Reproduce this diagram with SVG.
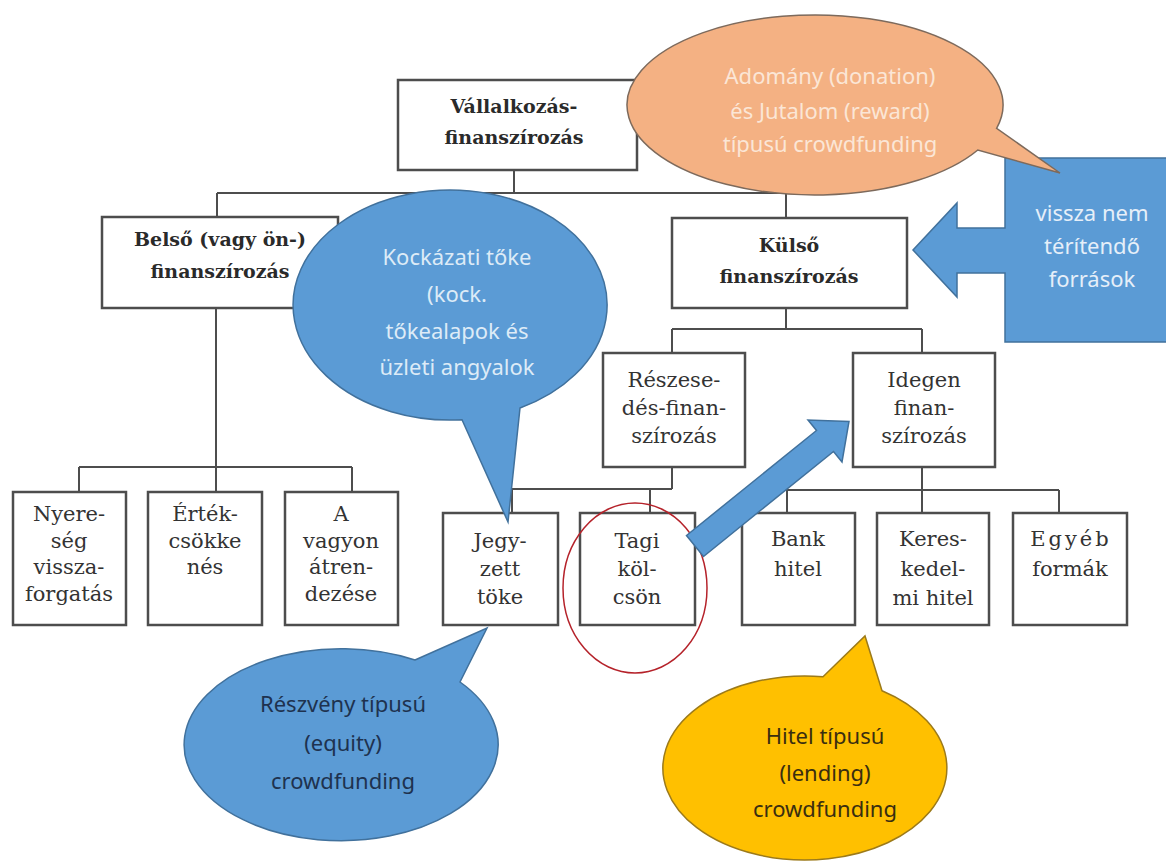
<svg xmlns="http://www.w3.org/2000/svg" width="1166" height="865" viewBox="0 0 1166 865">
<style>
.box{fill:#fff;stroke:#4d4d4d;stroke-width:2.5}
.con{fill:none;stroke:#4d4d4d;stroke-width:2}
.tb{font-family:"DejaVu Serif","Liberation Serif",serif;font-weight:bold;font-size:19px;fill:#2a2a2a;text-anchor:middle;dominant-baseline:central}
.tr{font-family:"DejaVu Serif","Liberation Serif",serif;font-size:21px;fill:#333;text-anchor:middle;dominant-baseline:central}
.bt{font-family:"Noto Sans","Liberation Sans",sans-serif;font-size:22px;text-anchor:middle;dominant-baseline:central}
.blue{fill:#5b9bd5;stroke:#41719c;stroke-width:1.5}
</style>
<rect width="1166" height="865" fill="#fff"/>
<g id="connectors">
<path class="con" d="M514,170V193M217,193H786M217,193V217M786,193V218"/>
<path class="con" d="M216,308V492M79,467H352M79,467V492M352,467V492"/>
<path class="con" d="M786,308V329M672,329H922M672,329V353M922,329V353"/>
<path class="con" d="M672,467V489M512,489H672M512,489V513M650,489V513"/>
<path class="con" d="M922,467V513M787,490H1059M787,490V513M1059,490V513"/>
</g>
<g id="vallalkozas"><rect class="box" x="398" y="80" width="239" height="90"/><text class="tb" x="514" y="106">Vállalkozás-</text><text class="tb" x="514" y="137">finanszírozás</text></g>
<g id="belso"><rect class="box" x="102" y="217" width="236" height="91"/><text class="tb" x="220" y="239">Belső (vagy ön-)</text><text class="tb" x="220" y="271">finanszírozás</text></g>
<g id="kulso"><rect class="box" x="672" y="218" width="235" height="90"/><text class="tb" x="789" y="245">Külső</text><text class="tb" x="789" y="276">finanszírozás</text></g>
<g id="reszesedes"><rect class="box" x="603" y="353" width="142" height="114"/><text class="tr" x="674" y="380">Részese-</text><text class="tr" x="674" y="408">dés-finan-</text><text class="tr" x="674" y="436">szírozás</text></g>
<g id="idegen"><rect class="box" x="853" y="353" width="142" height="114"/><text class="tr" x="924" y="380">Idegen</text><text class="tr" x="924" y="408">finan-</text><text class="tr" x="924" y="436">szírozás</text></g>
<g id="nyereseg"><rect class="box" x="13" y="492" width="113" height="133"/><text class="tr" x="69" y="514">Nyere-</text><text class="tr" x="69" y="541">ség</text><text class="tr" x="69" y="567">vissza-</text><text class="tr" x="69" y="594">forgatás</text></g>
<g id="ertekcsokkenes"><rect class="box" x="148" y="492" width="114" height="133"/><text class="tr" x="205" y="514">Érték-</text><text class="tr" x="205" y="541">csökke</text><text class="tr" x="205" y="567">nés</text></g>
<g id="avagyon"><rect class="box" x="285" y="492" width="113" height="133"/><text class="tr" x="341" y="514">A</text><text class="tr" x="341" y="541">vagyon</text><text class="tr" x="341" y="567">átren-</text><text class="tr" x="341" y="594">dezése</text></g>
<g id="jegyzett"><rect class="box" x="443" y="513" width="115" height="112"/><text class="tr" x="500" y="541">Jegy-</text><text class="tr" x="500" y="569">zett</text><text class="tr" x="500" y="597">töke</text></g>
<g id="tagi"><rect class="box" x="580" y="513" width="115" height="112"/><text class="tr" x="637" y="541">Tagi</text><text class="tr" x="637" y="569">köl-</text><text class="tr" x="637" y="597">csön</text></g>
<g id="bank"><rect class="box" x="742" y="513" width="113" height="112"/><text class="tr" x="798" y="539">Bank</text><text class="tr" x="798" y="569">hitel</text></g>
<g id="kereskedelmi"><rect class="box" x="877" y="513" width="112" height="112"/><text class="tr" x="933" y="539">Keres-</text><text class="tr" x="933" y="569">kedel-</text><text class="tr" x="933" y="598">mi hitel</text></g>
<g id="egyeb"><rect class="box" x="1013" y="513" width="114" height="112"/><text class="tr" x="1071" y="539" letter-spacing="3">Egyéb</text><text class="tr" x="1070" y="569">formák</text></g>
<g id="highlight"><ellipse cx="635" cy="588" rx="72" ry="85" fill="none" stroke="#b5222a" stroke-width="1.5"/></g>
<g id="vissza"><path class="blue" d="M1005,158H1170V342H1005V273H957V297L913,250L957,203V228H1005Z"/><g class="bt" fill="#e6eff9"><text x="1092" y="212">vissza nem</text><text x="1092" y="245">térítendő</text><text x="1092" y="278">források</text></g></g>
<g id="adomany"><path d="M996.6,128.3 A188 90 0 1 0 977.8,150 L1060,173 Z" fill="#f4b183" stroke="#7d6a5c" stroke-width="1.5"/><g class="bt" fill="#fbe6d6"><text x="830" y="75">Adomány (donation)</text><text x="830" y="110">és Jutalom (reward)</text><text x="830" y="143">típusú crowdfunding</text></g></g>
<g id="kockazati"><path class="blue" d="M462,419.7 A157 115 0 1 1 520,408 L508,522 Z"/><g class="bt" fill="#ddebf7"><text x="457" y="256">Kockázati tőke</text><text x="457" y="293">(kock.</text><text x="457" y="330">tőkealapok és</text><text x="457" y="366">üzleti angyalok</text></g></g>
<g id="reszveny"><path class="blue" d="M415,660 L487,628 L460,682 A157 96 0 1 1 415,660 Z"/><g class="bt" fill="#1e324f"><text x="343" y="703">Részvény típusú</text><text x="343" y="742">(equity)</text><text x="343" y="780">crowdfunding</text></g></g>
<g id="hitel"><path d="M823,676.7 L865,636 L882,690.7 A142 92 0 1 1 823,676.7 Z" fill="#ffc000" stroke="#9c7a1a" stroke-width="1.5"/><g class="bt" fill="#3a2e10"><text x="825" y="735">Hitel típusú</text><text x="825" y="772">(lending)</text><text x="825" y="808">crowdfunding</text></g></g>
<g id="arrow"><path class="blue" d="M686.5,535.5L816.5,430.5L808,420L849,421.5L842,462L833.5,451.5L703.5,556.5Z"/></g>
</svg>
